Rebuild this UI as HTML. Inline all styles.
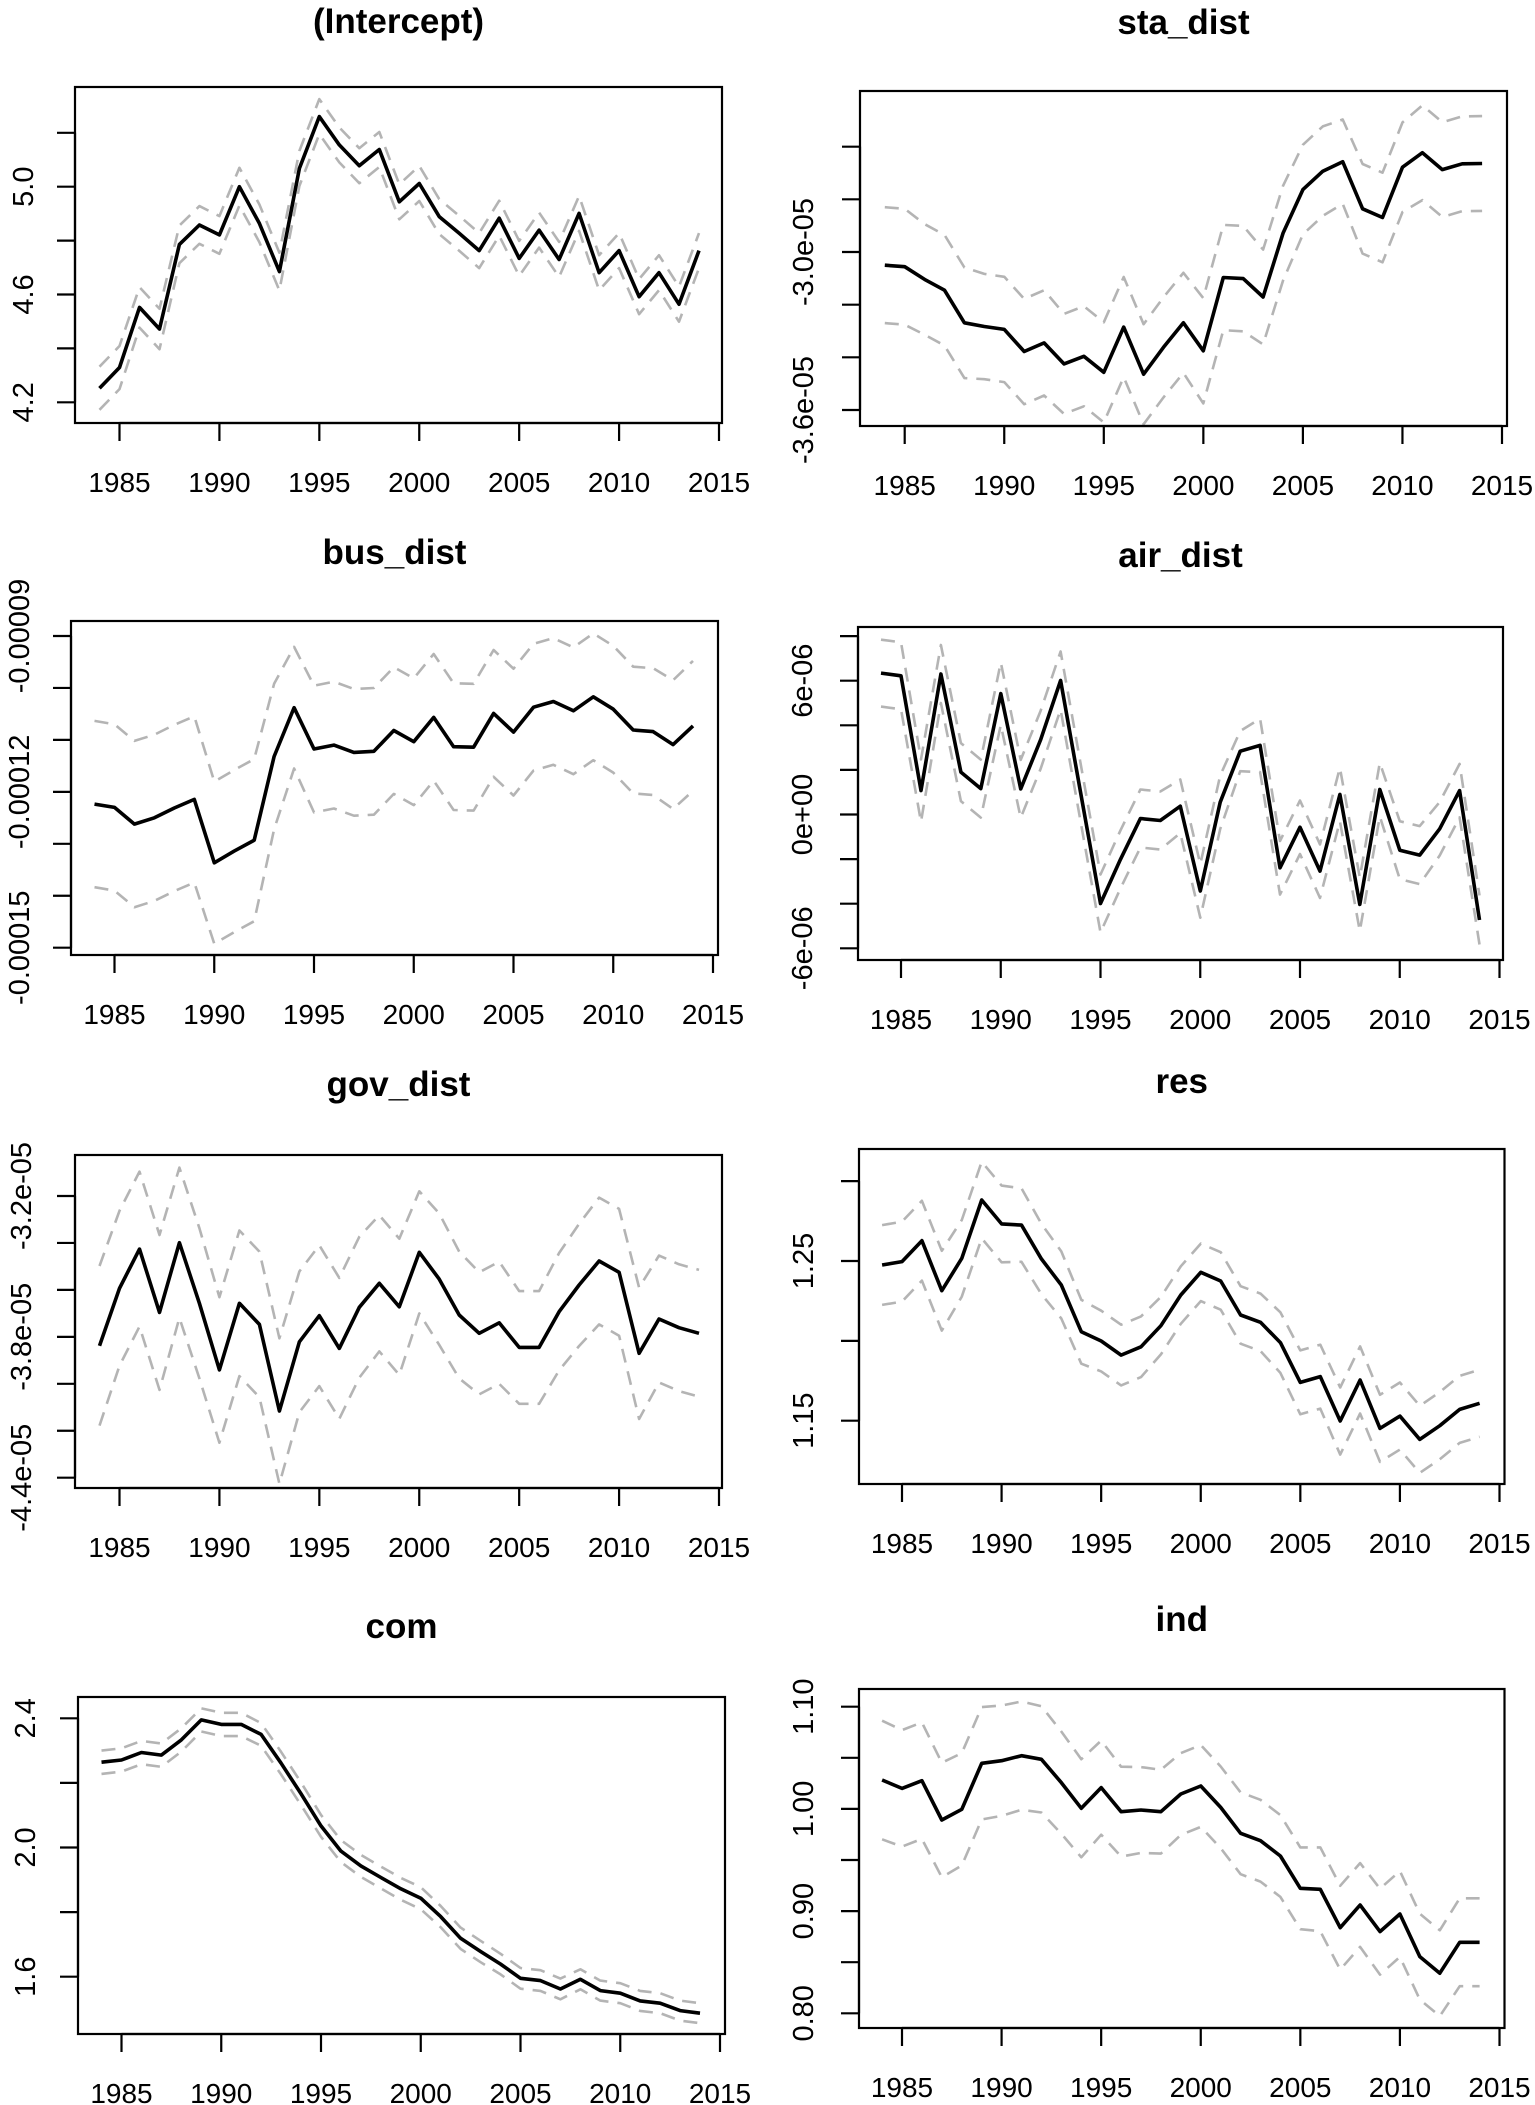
<!DOCTYPE html>
<html><head><meta charset="utf-8"><style>
html,body{margin:0;padding:0;background:#fff;}
svg{display:block;font-family:"Liberation Sans",Arial,sans-serif;}
</style></head><body>
<svg id="fig" width="1535" height="2105" viewBox="0 0 1535 2105">
<rect x="0" y="0" width="1535" height="2105" fill="#fff"/>
</svg>
<script>
const years = [1984,1985,1986,1987,1988,1989,1990,1991,1992,1993,1994,1995,1996,1997,1998,1999,2000,2001,2002,2003,2004,2005,2006,2007,2008,2009,2010,2011,2012,2013,2014];
const xTicks = [1985,1990,1995,2000,2005,2010,2015];

const interceptEst = [4.252,4.329,4.552,4.472,4.786,4.858,4.821,5.0,4.864,4.685,5.068,5.26,5.155,5.078,5.138,4.944,5.012,4.889,4.827,4.763,4.883,4.734,4.839,4.730,4.901,4.681,4.763,4.592,4.681,4.564,4.763];
const interceptCI = [0.08,0.08,0.075,0.075,0.07,0.07,0.07,0.07,0.07,0.07,0.065,0.065,0.065,0.065,0.065,0.065,0.065,0.065,0.065,0.065,0.065,0.065,0.065,0.065,0.065,0.065,0.065,0.065,0.065,0.065,0.065];
const interceptTicks = [4.2,4.4,4.6,4.8,5.0,5.2];
const interceptLabels = ["4.2","","4.6","","5.0",""];

const staEst = [-3.050,-3.056,-3.104,-3.145,-3.269,-3.283,-3.294,-3.378,-3.345,-3.425,-3.396,-3.457,-3.285,-3.464,-3.362,-3.269,-3.375,-3.097,-3.101,-3.171,-2.929,-2.763,-2.693,-2.657,-2.836,-2.869,-2.678,-2.623,-2.687,-2.665,-2.664];
const staCI = [0.22,0.22,0.21,0.21,0.21,0.2,0.2,0.2,0.2,0.19,0.19,0.19,0.19,0.19,0.19,0.19,0.2,0.2,0.2,0.18,0.18,0.17,0.17,0.16,0.17,0.17,0.17,0.18,0.18,0.18,0.18];
const staTicks = [-3.6,-3.4,-3.2,-3.0,-2.8,-2.6];
const staLabels = ["-3.6e-05","","","-3.0e-05","",""];

const busEst = [-12.235,-12.30,-12.62,-12.50,-12.31,-12.145,-13.365,-13.14,-12.93,-11.32,-10.38,-11.176,-11.10,-11.24,-11.22,-10.82,-11.035,-10.566,-11.13,-11.14,-10.49,-10.85,-10.37,-10.26,-10.44,-10.17,-10.41,-10.81,-10.84,-11.09,-10.73];
const busCI = [1.6,1.6,1.6,1.6,1.6,1.6,1.56,1.56,1.56,1.4,1.17,1.22,1.22,1.22,1.22,1.22,1.22,1.22,1.22,1.22,1.22,1.22,1.22,1.22,1.22,1.22,1.22,1.22,1.22,1.24,1.25];
const busTicks = [-15,-14,-13,-12,-11,-10,-9];
const busLabels = ["-0.00015","","","-0.00012","","","-0.00009"];

const airEst = [6.34,6.22,1.07,6.30,1.90,1.16,5.42,1.15,3.36,6.01,1.01,-3.99,-2.01,-0.18,-0.27,0.37,-3.43,0.55,2.84,3.10,-2.39,-0.57,-2.54,0.90,-4.03,1.12,-1.60,-1.82,-0.64,1.07,-4.73];
const airCI = [1.5,1.5,1.4,1.3,1.3,1.3,1.4,1.3,1.3,1.3,1.3,1.3,1.3,1.3,1.3,1.2,1.2,1.2,0.9,1.2,1.2,1.2,1.2,1.2,1.2,1.2,1.3,1.3,1.2,1.2,1.1];
const airTicks = [-6,-4,-2,0,2,4,6,8];
const airLabels = ["-6e-06","","","0e+00","","","6e-06",""];

const govEst = [-3.838,-3.593,-3.426,-3.696,-3.399,-3.657,-3.941,-3.657,-3.747,-4.116,-3.821,-3.710,-3.849,-3.674,-3.572,-3.672,-3.440,-3.554,-3.707,-3.785,-3.740,-3.845,-3.845,-3.693,-3.579,-3.477,-3.525,-3.870,-3.724,-3.761,-3.785];
const govCI = [0.34,0.33,0.33,0.33,0.32,0.32,0.31,0.31,0.31,0.31,0.3,0.3,0.3,0.3,0.29,0.29,0.26,0.28,0.27,0.26,0.26,0.24,0.24,0.25,0.26,0.27,0.27,0.28,0.27,0.27,0.27];
const govTicks = [-4.4,-4.2,-4.0,-3.8,-3.6,-3.4,-3.2];
const govLabels = ["-4.4e-05","","","-3.8e-05","","","-3.2e-05"];

const resEst = [1.2475,1.2496,1.2627,1.2314,1.2517,1.2882,1.2732,1.2725,1.2513,1.235,1.2057,1.1999,1.1911,1.1963,1.2095,1.2287,1.2429,1.2375,1.2162,1.2116,1.1989,1.174,1.1776,1.1498,1.1755,1.1452,1.1529,1.1383,1.1469,1.1571,1.1609];
const resCI = [0.025,0.025,0.025,0.025,0.024,0.024,0.024,0.023,0.022,0.021,0.02,0.019,0.019,0.019,0.018,0.018,0.018,0.018,0.018,0.018,0.019,0.02,0.02,0.021,0.021,0.021,0.021,0.021,0.021,0.021,0.021];
const resTicks = [1.15,1.20,1.25,1.30];
const resLabels = ["1.15","","1.25",""];

const comEst = [2.264,2.271,2.294,2.286,2.333,2.395,2.381,2.381,2.350,2.261,2.166,2.067,1.989,1.943,1.907,1.872,1.843,1.786,1.719,1.678,1.639,1.595,1.588,1.562,1.592,1.557,1.549,1.525,1.518,1.495,1.487];
const comCI = [0.036,0.036,0.036,0.036,0.036,0.036,0.036,0.036,0.035,0.035,0.035,0.034,0.034,0.034,0.034,0.034,0.034,0.033,0.033,0.033,0.032,0.032,0.032,0.032,0.031,0.031,0.031,0.031,0.031,0.031,0.031];
const comTicks = [1.6,1.8,2.0,2.2,2.4];
const comLabels = ["1.6","","2.0","","2.4"];

const indEst = [1.0283,1.0201,1.0276,0.9891,0.9996,1.0446,1.0472,1.0521,1.0485,1.0257,1.0006,1.0208,0.9973,0.9989,0.9973,1.0146,1.0224,1.0015,0.9761,0.9689,0.9539,0.9223,0.9213,0.8838,0.906,0.8799,0.8972,0.8555,0.8392,0.8695,0.8695];
const indCI = [0.058,0.057,0.057,0.056,0.055,0.055,0.054,0.053,0.052,0.05,0.048,0.046,0.044,0.042,0.041,0.04,0.04,0.04,0.04,0.04,0.04,0.04,0.041,0.041,0.041,0.042,0.042,0.042,0.042,0.043,0.043];
const indTicks = [0.80,0.85,0.90,0.95,1.00,1.05,1.10];
const indLabels = ["0.80","","0.90","","1.00","","1.10"];

const NS = "http://www.w3.org/2000/svg";
const svg = document.getElementById('fig');
function mk(tag, attrs, parent){
  const e = document.createElementNS(NS, tag);
  for (const k in attrs) e.setAttribute(k, attrs[k]);
  (parent||svg).appendChild(e);
  return e;
}

const panels = [
 {id:'intercept', title:'(Intercept)', est:interceptEst, ci:interceptCI, ticks:interceptTicks, labels:interceptLabels,
  L:75,R:722,T:87,B:423, x85:119.5,x15:719, cv1:4.2,cp1:402.3,cv2:5.0,cp2:186.7, ty:33, lo:42},
 {id:'sta-dist', title:'sta_dist', est:staEst, ci:staCI, ticks:staTicks, labels:staLabels,
  L:860,R:1507,T:91,B:426, x85:904.7,x15:1502, cv1:-3.6,cp1:410,cv2:-3.0,cp2:252, ty:34, lo:47},
 {id:'bus-dist', title:'bus_dist', est:busEst, ci:busCI, ticks:busTicks, labels:busLabels,
  L:71,R:718,T:621,B:955, x85:114.5,x15:713, cv1:-15,cp1:947.7,cv2:-9,cp2:636, ty:564, lo:42},
 {id:'air-dist', title:'air_dist', est:airEst, ci:airCI, ticks:airTicks, labels:airLabels,
  L:858,R:1503,T:627,B:960, x85:901,x15:1499.5, cv1:-6,cp1:948.3,cv2:6,cp2:680.7, ty:567, lo:46},
 {id:'gov-dist', title:'gov_dist', est:govEst, ci:govCI, ticks:govTicks, labels:govLabels,
  L:75,R:722,T:1155,B:1488, x85:119.5,x15:719, cv1:-4.4,cp1:1477.7,cv2:-3.2,cp2:1196, ty:1096, lo:44},
 {id:'res', title:'res', est:resEst, ci:resCI, ticks:resTicks, labels:resLabels,
  L:859,R:1504.5,T:1149,B:1484, x85:902,x15:1499.5, cv1:1.15,cp1:1420.7,cv2:1.25,cp2:1261, ty:1093, lo:46},
 {id:'com', title:'com', est:comEst, ci:comCI, ticks:comTicks, labels:comLabels,
  L:78,R:725,T:1697,B:2034, x85:121.5,x15:720, cv1:1.6,cp1:1976.7,cv2:2.4,cp2:1718.3, ty:1638, lo:43},
 {id:'ind', title:'ind', est:indEst, ci:indCI, ticks:indTicks, labels:indLabels,
  L:859,R:1504.5,T:1689,B:2028, x85:902,x15:1499.5, cv1:0.80,cp1:2013.3,cv2:1.10,cp2:1706.7, ty:1631, lo:46}
];

panels.forEach(p => {
  const xs = yr => p.x85 + (yr - 1985) * (p.x15 - p.x85) / 30;
  const ys = v => p.cp1 + (v - p.cv1) * (p.cp2 - p.cp1) / (p.cv2 - p.cv1);
  const g = mk('g', {});
  
  

  const t = mk('text', {x:(p.L+p.R)/2, y:p.ty, 'text-anchor':'middle', 'font-size':35, 'font-weight':'bold', fill:'#000'}, g);
  t.textContent = p.title;
  
  

  if (p.zero) {
    const z = mk('line', {x1:p.L, x2:p.R, y1:ys(0), y2:ys(0), stroke:'#0000ee', 'stroke-width':2.5, 'stroke-dasharray':'3 5'}, g);
    
    
  }

  const up = years.map((yr,i) => xs(yr).toFixed(1)+','+ys(p.est[i]+p.ci[i]).toFixed(1)).join(' ');
  const lo = years.map((yr,i) => xs(yr).toFixed(1)+','+ys(p.est[i]-p.ci[i]).toFixed(1)).join(' ');
  const pu = mk('polyline', {points:up, fill:'none', stroke:'#b4b4b4', 'stroke-width':2.6, 'stroke-dasharray':'14 9', 'stroke-linejoin':'round'}, g);
  
  
  const pl = mk('polyline', {points:lo, fill:'none', stroke:'#b4b4b4', 'stroke-width':2.6, 'stroke-dasharray':'14 9', 'stroke-linejoin':'round'}, g);
  
  
  const est = years.map((yr,i) => xs(yr).toFixed(1)+','+ys(p.est[i]).toFixed(1)).join(' ');
  const pe = mk('polyline', {points:est, fill:'none', stroke:'#000', 'stroke-width':3.6, 'stroke-linejoin':'round'}, g);
  
  

  const box = mk('rect', {x:p.L, y:p.T, width:p.R-p.L, height:p.B-p.T, fill:'none', stroke:'#000', 'stroke-width':2.2}, g);
  
  

  const xa = mk('g', {}, g);
  
  
  mk('line', {x1:xs(xTicks[0]), x2:xs(xTicks[xTicks.length-1]), y1:p.B, y2:p.B, stroke:'#000','stroke-width':2.2}, xa);
  xTicks.forEach(yr => {
    mk('line', {x1:xs(yr), x2:xs(yr), y1:p.B, y2:p.B+18, stroke:'#000','stroke-width':2.2}, xa);
    const lt = mk('text', {x:xs(yr), y:p.B+69, 'text-anchor':'middle','font-size':28, fill:'#000'}, xa);
    lt.textContent = yr;
    
    
  });

  const ya = mk('g', {}, g);
  
  
  mk('line', {x1:p.L, x2:p.L, y1:ys(p.ticks[0]), y2:ys(p.ticks[p.ticks.length-1]), stroke:'#000','stroke-width':2.2}, ya);
  p.ticks.forEach((v,i) => {
    const yy = ys(v);
    mk('line', {x1:p.L-18, x2:p.L, y1:yy, y2:yy, stroke:'#000','stroke-width':2.2}, ya);
    if (p.labels[i]) {
      const lt = mk('text', {transform:'translate('+(p.L-p.lo)+','+yy.toFixed(1)+') rotate(-90)', 'text-anchor':'middle','font-size':29, fill:'#000'}, ya);
      lt.textContent = p.labels[i];
      
      
    }
  });
});
</script>
</body></html>
